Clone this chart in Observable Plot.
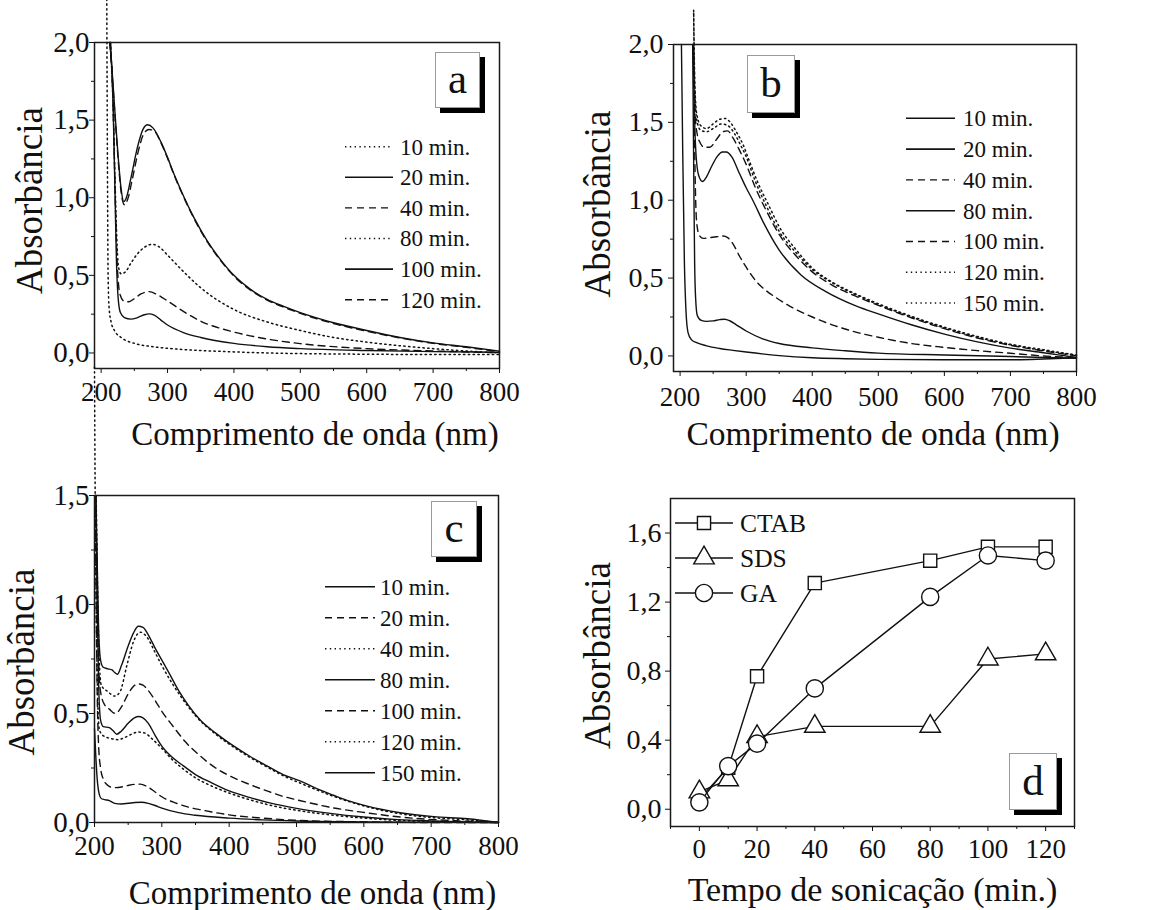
<!DOCTYPE html>
<html>
<head>
<meta charset="utf-8">
<script src="https://cdn.jsdelivr.net/npm/d3@7"></script>
<script src="https://cdn.jsdelivr.net/npm/@observablehq/plot@0.6"></script>
<style>
  body { margin: 0; background: #fff; }
  #fig { position: relative; width: 1150px; height: 910px; overflow: hidden; background: #fff;
         font-family: "Liberation Serif", "Times New Roman", serif; color: #111; }
  .panel { position: absolute; }
  .panel svg { overflow: visible; }
  .tag { position: absolute; box-sizing: border-box; background: #fff; border: 1px solid #9a9a9a;
         box-shadow: 5px 5px 0 #000; text-align: center; color: #111; font-size: 43px; }
  #overlay { position: absolute; left: 0; top: 0; overflow: visible; pointer-events: none; }
</style>
</head>
<body>
<div id="fig"></div>
<script>
// ---------- Panel a: GA, UV-vis spectra (wavelength nm, absorbance) ----------
const aLabels = ["10 min.", "20 min.", "40 min.", "80 min.", "100 min.", "120 min."];
const a10 = [[208.5,2.28],[209.5,1.2],[210.5,0.5],[212,0.29],[215,0.2],[220,0.145],[230,0.1],[250,0.062],[275,0.042],[300,0.03],[350,0.016],[400,0.007],[450,0.0],[500,-0.004],[600,-0.008],[700,-0.01],[800,-0.01]];
const a20 = [[214,2.0],[218,1.6],[221,1.0],[223,0.6],[225.5,0.36],[229,0.26],[235,0.228],[245,0.218],[255,0.228],[265,0.246],[272,0.252],[280,0.244],[290,0.212],[300,0.18],[325,0.13],[350,0.1],[400,0.062],[450,0.04],[500,0.028],[600,0.016],[700,0.009],[800,0.005]];
const a40 = [[214,2.0],[218,1.6],[221,1.05],[223.5,0.65],[226,0.45],[229,0.37],[234,0.335],[242,0.33],[250,0.35],[260,0.38],[272,0.395],[285,0.375],[300,0.335],[325,0.265],[350,0.205],[400,0.135],[450,0.09],[500,0.06],[600,0.028],[700,0.013],[800,0.002]];
const a80 = [[214,2.0],[218,1.6],[221,1.1],[223.5,0.75],[226,0.56],[230,0.51],[236,0.52],[245,0.58],[255,0.64],[265,0.68],[277,0.7],[287,0.685],[300,0.63],[325,0.52],[350,0.42],[400,0.28],[450,0.2],[500,0.145],[550,0.1],[600,0.07],[700,0.028],[800,0.0]];
const a100 = [[213,2.0],[216,1.85],[220,1.6],[225,1.3],[230,1.06],[234,0.975],[238,1.0],[245,1.13],[255,1.33],[263,1.44],[270,1.47],[278,1.45],[290,1.36],[300,1.26],[310,1.15],[320,1.05],[340,0.87],[360,0.72],[380,0.6],[400,0.5],[425,0.41],[450,0.345],[475,0.3],[500,0.26],[550,0.195],[600,0.145],[650,0.1],[700,0.065],[750,0.04],[800,0.012]];
const a120 = [[213,2.0],[216,1.83],[220,1.58],[225,1.28],[230,1.04],[235,0.955],[240,0.99],[247,1.12],[256,1.3],[264,1.41],[272,1.44],[280,1.43],[290,1.355],[300,1.255],[310,1.145],[320,1.045],[340,0.865],[360,0.715],[380,0.595],[400,0.495],[425,0.405],[450,0.34],[475,0.295],[500,0.255],[550,0.19],[600,0.14],[650,0.097],[700,0.062],[750,0.036],[800,0.008]];

// ---------- Panel b: CTAB ----------
const bLabels = ["10 min.", "20 min.", "40 min.", "80 min.", "100 min.", "120 min.", "150 min."];
const b10 = [[202,2.0],[204,1.3],[206.5,0.6],[209,0.28],[212,0.15],[217,0.105],[225,0.085],[240,0.065],[260,0.048],[280,0.036],[300,0.025],[350,0.002],[400,-0.012],[450,-0.018],[500,-0.022],[600,-0.025],[700,-0.025],[750,-0.02],[800,-0.012]];
const b20 = [[219,2.0],[220,1.5],[221,1.0],[222,0.6],[223.5,0.37],[226,0.26],[232,0.228],[240,0.222],[250,0.225],[260,0.233],[267,0.236],[275,0.226],[285,0.2],[300,0.16],[325,0.11],[350,0.08],[400,0.052],[450,0.033],[500,0.018],[600,0.006],[700,-0.004],[800,-0.015]];
const b40 = [[220,2.0],[221.5,1.5],[223,1.1],[225,0.86],[229,0.775],[235,0.755],[245,0.76],[255,0.765],[265,0.77],[272,0.76],[280,0.72],[290,0.64],[300,0.57],[315,0.48],[330,0.42],[345,0.375],[370,0.31],[400,0.25],[430,0.2],[460,0.16],[500,0.12],[550,0.08],[600,0.055],[650,0.034],[700,0.017],[750,0.0],[800,-0.01]];
const b80 = [[220,2.0],[221.5,1.6],[224,1.3],[228,1.16],[234,1.12],[240,1.15],[248,1.22],[256,1.28],[264,1.31],[270,1.31],[278,1.28],[290,1.17],[300,1.08],[310,1.0],[327,0.85],[350,0.68],[383,0.52],[420,0.415],[467,0.32],[500,0.27],[550,0.2],[600,0.14],[650,0.09],[700,0.05],[750,0.02],[800,-0.01]];
const b100 = [[220,2.0],[221.5,1.7],[224,1.48],[229,1.38],[237,1.34],[245,1.34],[255,1.39],[265,1.44],[272,1.445],[280,1.4],[290,1.32],[300,1.23],[313,1.09],[332,0.92],[350,0.78],[375,0.645],[400,0.54],[430,0.455],[465,0.385],[500,0.325],[550,0.245],[600,0.175],[650,0.115],[700,0.068],[750,0.032],[800,0.0]];
const b120 = [[220.5,2.2],[222,1.75],[225,1.52],[231,1.45],[240,1.44],[250,1.46],[262,1.49],[272,1.48],[282,1.43],[292,1.35],[300,1.28],[313,1.13],[332,0.95],[350,0.8],[375,0.665],[400,0.555],[430,0.47],[465,0.395],[500,0.33],[550,0.25],[600,0.18],[650,0.12],[700,0.072],[750,0.035],[800,0.005]];
const b150 = [[220.5,2.22],[222,1.8],[225,1.56],[231,1.48],[240,1.46],[250,1.49],[260,1.52],[268,1.525],[276,1.5],[285,1.44],[295,1.36],[305,1.25],[318,1.11],[335,0.96],[350,0.83],[375,0.685],[400,0.565],[430,0.475],[465,0.4],[500,0.335],[550,0.255],[600,0.185],[650,0.125],[700,0.075],[750,0.04],[800,0.006]];

// ---------- Panel c: SDS ----------
const cLabels = ["10 min.", "20 min.", "40 min.", "80 min.", "100 min.", "120 min.", "150 min."];
const c10 = [[200,0.43],[202,0.3],[204,0.2],[207,0.13],[210,0.11],[215,0.105],[222,0.1],[230,0.088],[240,0.085],[250,0.088],[260,0.092],[270,0.093],[280,0.088],[290,0.078],[300,0.066],[325,0.045],[350,0.033],[400,0.02],[450,0.012],[500,0.007],[600,0.003],[700,0.001],[800,0.0]];
const c20 = [[201,1.5],[202.5,1.0],[204,0.6],[206,0.36],[209,0.25],[213,0.2],[220,0.17],[228,0.16],[240,0.163],[250,0.17],[260,0.175],[268,0.176],[278,0.165],[290,0.14],[300,0.118],[320,0.09],[340,0.07],[360,0.057],[400,0.035],[450,0.02],[500,0.01],[600,0.003],[700,0.0],[800,0.0]];
const c40 = [[200,2.09],[201,1.5],[202.5,1.0],[204.5,0.6],[207,0.43],[212,0.4],[225,0.385],[235,0.38],[245,0.39],[255,0.405],[265,0.415],[275,0.41],[285,0.385],[300,0.34],[315,0.29],[332,0.245],[350,0.205],[372,0.17],[400,0.135],[430,0.105],[460,0.08],[500,0.056],[550,0.035],[600,0.02],[650,0.01],[700,0.005],[750,0.002],[800,0.0]];
const c80 = [[202,1.5],[204,1.0],[206,0.65],[209,0.47],[213,0.44],[222,0.435],[228,0.42],[233,0.405],[240,0.42],[250,0.455],[258,0.478],[265,0.486],[272,0.48],[280,0.455],[290,0.4],[300,0.35],[315,0.3],[332,0.26],[350,0.22],[372,0.185],[400,0.145],[430,0.115],[460,0.09],[500,0.065],[550,0.042],[600,0.025],[650,0.013],[700,0.007],[750,0.003],[800,0.0]];
const c100 = [[202,1.5],[204,1.1],[206,0.75],[209,0.6],[215,0.54],[222,0.52],[231,0.5],[240,0.53],[250,0.59],[258,0.625],[265,0.636],[272,0.63],[280,0.605],[290,0.56],[300,0.51],[317,0.44],[335,0.37],[357,0.305],[380,0.25],[407,0.205],[430,0.175],[456,0.145],[480,0.12],[506,0.1],[555,0.067],[605,0.044],[654,0.025],[704,0.013],[754,0.006],[800,0.0]];
const c120 = [[202.5,1.5],[205,1.0],[207,0.75],[210,0.63],[220,0.6],[230,0.58],[238,0.6],[248,0.72],[258,0.83],[268,0.873],[278,0.85],[290,0.78],[300,0.72],[315,0.64],[330,0.57],[350,0.49],[380,0.405],[407,0.345],[430,0.3],[456,0.255],[480,0.215],[506,0.18],[555,0.12],[605,0.072],[654,0.04],[704,0.022],[754,0.012],[800,0.0]];
const c150 = [[202,1.5],[204,1.2],[206,0.9],[209,0.745],[213,0.712],[220,0.705],[226,0.7],[230,0.688],[234,0.68],[240,0.72],[250,0.81],[258,0.87],[265,0.9],[272,0.895],[280,0.86],[290,0.8],[300,0.745],[310,0.69],[325,0.605],[340,0.535],[357,0.47],[380,0.41],[407,0.35],[430,0.305],[456,0.26],[480,0.22],[506,0.19],[530,0.155],[555,0.125],[580,0.097],[605,0.075],[654,0.045],[704,0.027],[754,0.017],[800,0.0]];

// ---------- Panel d: absorbance at the band maximum vs sonication time ----------
const dTimes = [0, 10, 20, 40, 80, 100, 120];
const dCTAB = [0.06, 0.24, 0.77, 1.31, 1.44, 1.52, 1.52];
const dSDS  = [0.10, 0.17, 0.42, 0.48, 0.48, 0.87, 0.90];
const dGA   = [0.04, 0.25, 0.38, 0.70, 1.23, 1.47, 1.44];
const dNames = ["CTAB", "SDS", "GA"];

// Tick values
const nmTicks = [200, 300, 400, 500, 600, 700, 800];
const nmMinor = [250, 350, 450, 550, 650, 750];
const absTicks2 = [0, 0.5, 1.0, 1.5, 2.0];
const absMinor2 = [0.25, 0.75, 1.25, 1.75];
const absTicks15 = [0, 0.5, 1.0, 1.5];
const absMinor15 = [0.25, 0.75, 1.25];
const timeTicks = [0, 20, 40, 60, 80, 100, 120];
const timeMinor = [-10, 10, 30, 50, 70, 90, 110, 130];
const dAbsTicks = [0, 0.4, 0.8, 1.2, 1.6];
const dAbsMinor = [0.2, 0.6, 1.0, 1.4];

// ---------- drawing ----------
const INK = "#111";
const SERIF = "'Liberation Serif', 'Times New Roman', serif";
const DASH = {solid: undefined, dashed: "7,5", dotted: "1.4,3.4"};
const LW = {solid: 1.4, dashed: 1.4, dotted: 1.5};
const comma = d => d.toFixed(1).replace(".", ",");
const fig = document.getElementById("fig");

function axes(o) {
  return [
    Plot.axisY({ticks: o.yTicks, tickSize: 5, tickPadding: o.yPad, fontSize: o.yFont, tickFormat: comma, label: null}),
    Plot.axisY({ticks: o.yMinor, tickSize: 3, tickFormat: () => "", label: null}),
    Plot.axisX({ticks: o.xTicks, tickSize: 5, tickPadding: o.xPad, fontSize: o.xFont, tickFormat: d => String(d), label: null}),
    Plot.axisX({ticks: o.xMinor, tickSize: 3, tickFormat: () => "", label: null}),
    Plot.frame({stroke: "#1a1a1a", strokeWidth: 1.5}),
    Plot.text([o.xTitle], {text: d => d, frameAnchor: "bottom", dx: o.xTitleDx, dy: o.xTitleDy,
      fontSize: o.xTitleFont, textAnchor: "middle", lineAnchor: "middle", fill: INK}),
    Plot.text(["Absorbância"], {text: d => d, frameAnchor: "left", rotate: -90, dx: o.yTitleDx, dy: o.yTitleDy,
      fontSize: 37, textAnchor: "middle", lineAnchor: "middle", fill: INK})
  ];
}

function place(svg, left, top) {
  const div = document.createElement("div");
  div.className = "panel";
  div.style.left = left + "px";
  div.style.top = top + "px";
  div.appendChild(svg);
  fig.appendChild(div);
}

function spectra(o) {
  const marks = o.series.map((pts, i) => Plot.line(pts, {
    x: d => d[0], y: d => d[1], curve: "monotone-x",
    stroke: INK, strokeWidth: LW[o.styles[i]], strokeDasharray: DASH[o.styles[i]]
  }));
  const svg = Plot.plot({
    width: 575, height: 455,
    marginLeft: o.m[0], marginRight: o.m[1], marginTop: o.m[2], marginBottom: o.m[3],
    x: {domain: o.xDomain, label: null},
    y: {domain: o.yDomain, label: null},
    style: {fontFamily: SERIF, overflow: "visible", background: "transparent", color: INK},
    marks: [...marks, ...axes(o)]
  });
  place(svg, o.left, o.top);
}

spectra({
  left: 0, top: 0, m: [94, 76, 42, 87],
  xDomain: [190, 800], yDomain: [-0.1, 2.0],
  series: [a10, a20, a40, a80, a100, a120],
  styles: ["dotted", "solid", "dashed", "dotted", "solid", "dashed"],
  xTicks: nmTicks, xMinor: nmMinor, yTicks: absTicks2, yMinor: absMinor2,
  yFont: 29, xFont: 27, yPad: 0, xPad: 8,
  xTitle: "Comprimento de onda (nm)", xTitleFont: 33, xTitleDx: 18, xTitleDy: 66,
  yTitleDx: -64, yTitleDy: -5
});

spectra({
  left: 575, top: 0, m: [98, 74, 44, 84],
  xDomain: [190, 800], yDomain: [-0.1, 2.0],
  series: [b10, b20, b40, b80, b100, b120, b150],
  styles: ["solid", "solid", "dashed", "solid", "dashed", "dotted", "dotted"],
  xTicks: nmTicks, xMinor: nmMinor, yTicks: absTicks2, yMinor: absMinor2,
  yFont: 28, xFont: 27, yPad: 5, xPad: 10,
  xTitle: "Comprimento de onda (nm)", xTitleFont: 33.5, xTitleDx: -2, xTitleDy: 63,
  yTitleDx: -75, yTitleDy: -4
});

spectra({
  left: 0, top: 455, m: [94, 77, 40, 88],
  xDomain: [200, 800], yDomain: [0, 1.5],
  series: [c10, c20, c40, c80, c100, c120, c150],
  styles: ["solid", "dashed", "dotted", "solid", "dashed", "dotted", "solid"],
  xTicks: nmTicks, xMinor: nmMinor, yTicks: absTicks15, yMinor: absMinor15,
  yFont: 29, xFont: 27, yPad: 0, xPad: 8,
  xTitle: "Comprimento de onda (nm)", xTitleFont: 33, xTitleDx: 16, xTitleDy: 71,
  yTitleDx: -72, yTitleDy: 3
});

// Panel d
const dSeries = [dCTAB, dSDS, dGA];
const dSymbols = ["square", "triangle", "circle"];
const dRadius = [7.4, 7.6, 8.6];
const dRows = dSeries.map(vals => dTimes.map((t, i) => ({t, v: vals[i]})));
const dMarks = [];
dRows.forEach((rows, k) => {
  dMarks.push(Plot.line(rows, {x: "t", y: "v", stroke: INK, strokeWidth: 1.4}));
  dMarks.push(Plot.dot(rows, {x: "t", y: "v", symbol: () => dSymbols[k], r: dRadius[k], fill: "white", stroke: INK, strokeWidth: 1.4}));
});
const dSvg = Plot.plot({
  width: 575, height: 455,
  marginLeft: 95, marginRight: 76, marginTop: 43, marginBottom: 84,
  x: {domain: [-10, 130], label: null},
  y: {domain: [-0.1, 1.8], label: null},
  symbol: {domain: dSymbols, range: dSymbols},
  style: {fontFamily: SERIF, overflow: "visible", background: "transparent", color: INK},
  marks: [...dMarks, ...axes({
    xTicks: timeTicks, xMinor: timeMinor, yTicks: dAbsTicks, yMinor: dAbsMinor,
    yFont: 28, xFont: 27, yPad: 4, xPad: 7,
    xTitle: "Tempo de sonicação (min.)", xTitleFont: 34, xTitleDx: 0, xTitleDy: 64,
    yTitleDx: -72, yTitleDy: -7
  })]
});
place(dSvg, 575, 455);

// ---------- legends ----------
const overlay = d3.select(fig).append("svg").attr("id", "overlay").attr("width", 1150).attr("height", 910);

function lineLegend(o) {
  o.labels.forEach((lab, i) => {
    const y = o.y0 + i * o.gap;
    const st = o.styles[i];
    overlay.append("line").attr("x1", o.x0).attr("x2", o.x1).attr("y1", y).attr("y2", y)
      .attr("stroke", INK).attr("stroke-width", LW[st] + (st === "solid" ? 0.2 : 0))
      .attr("stroke-dasharray", DASH[st] || null);
    overlay.append("text").attr("x", o.tx).attr("y", y + 0.34 * o.font)
      .attr("font-family", SERIF).attr("font-size", o.font).attr("fill", INK).text(lab);
  });
}
lineLegend({labels: aLabels, styles: ["dotted", "solid", "dashed", "dotted", "solid", "dashed"],
  x0: 345, x1: 393, tx: 400, y0: 146.7, gap: 30.6, font: 23});
lineLegend({labels: bLabels, styles: ["solid", "solid", "dashed", "solid", "dashed", "dotted", "dotted"],
  x0: 906, x1: 955, tx: 963, y0: 118.3, gap: 30.8, font: 23});
lineLegend({labels: cLabels, styles: ["solid", "dashed", "dotted", "solid", "dashed", "dotted", "solid"],
  x0: 325, x1: 375, tx: 380, y0: 586.7, gap: 31, font: 23});

const d3Sym = {square: d3.symbolSquare, triangle: d3.symbolTriangle, circle: d3.symbolCircle};
dNames.forEach((name, k) => {
  const y = 523 + k * 35;
  overlay.append("line").attr("x1", 675).attr("x2", 733).attr("y1", y).attr("y2", y)
    .attr("stroke", INK).attr("stroke-width", 1.4);
  overlay.append("path").attr("transform", `translate(704,${y})`)
    .attr("d", d3.symbol(d3Sym[dSymbols[k]], Math.PI * dRadius[k] * dRadius[k])())
    .attr("fill", "white").attr("stroke", INK).attr("stroke-width", 1.4);
  overlay.append("text").attr("x", 740).attr("y", y + 0.34 * 25.5)
    .attr("font-family", SERIF).attr("font-size", 25.5).attr("fill", INK).text(name);
});

// ---------- panel tags ----------
[["a", 435, 52, 45, 56], ["b", 747, 55, 48, 58], ["c", 431, 501, 46, 56], ["d", 1009, 753, 48, 57]]
  .forEach(([t, l, tp, w, h]) => {
    const div = document.createElement("div");
    div.className = "tag";
    Object.assign(div.style, {left: l + "px", top: tp + "px", width: w + "px", height: h + "px", lineHeight: (h - 4) + "px"});
    div.textContent = t;
    fig.appendChild(div);
  });
</script>
</body>
</html>
